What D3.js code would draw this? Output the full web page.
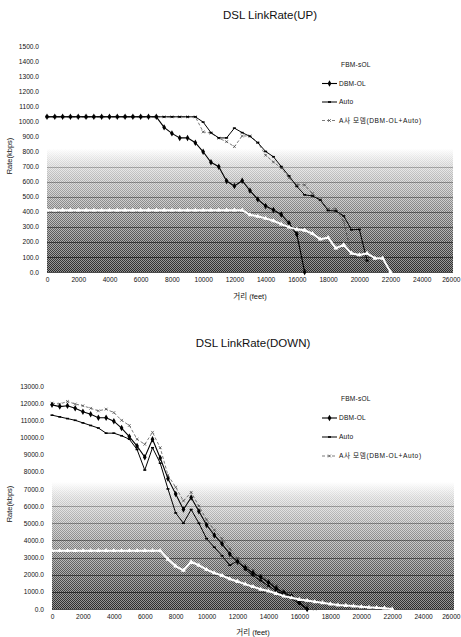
<!DOCTYPE html>
<html>
<head>
<meta charset="utf-8">
<script src="https://cdn.jsdelivr.net/npm/d3@7/dist/d3.min.js"></script>
<style>
  body { margin: 0; background: #fff; }
  text { font-family: "Liberation Sans", Arial, "Noto Sans CJK KR", sans-serif; fill: #111; }
</style>
</head>
<body>
<script>
// distance in feet, one point every 500 ft
const distance = [0, 500, 1000, 1500, 2000, 2500, 3000, 3500, 4000, 4500, 5000, 5500, 6000, 6500,
  7000, 7500, 8000, 8500, 9000, 9500, 10000, 10500, 11000, 11500, 12000, 12500, 13000, 13500,
  14000, 14500, 15000, 15500, 16000, 16500, 17000, 17500, 18000, 18500, 19000, 19500, 20000,
  20500, 21000, 21500, 22000]

const xTicks = [0, 2000, 4000, 6000, 8000, 10000, 12000, 14000, 16000, 18000, 20000, 22000, 24000, 26000]
const upTicks = [0, 100, 200, 300, 400, 500, 600, 700, 800, 900, 1000, 1100, 1200, 1300, 1400, 1500]
const downTicks = [0, 1000, 2000, 3000, 4000, 5000, 6000, 7000, 8000, 9000, 10000, 11000, 12000, 13000]

const seriesNames = ['FBM-sOL', 'DBM-OL', 'Auto', 'A사 모뎀(DBM-OL+Auto)']

// UP link rate (kbps)
const upFBM = [410, 410, 410, 410, 410, 410, 410, 410, 410, 410, 410, 410, 410, 410, 410, 410, 410,
  410, 410, 410, 410, 410, 410, 410, 410, 410, 380, 370, 356, 340, 318, 298, 283, 277, 255, 218,
  228, 158, 180, 124, 113, 124, 91, 91, 0]
const upDBM = [1030, 1030, 1030, 1030, 1030, 1030, 1030, 1030, 1030, 1030, 1030, 1030, 1030, 1030,
  1030, 960, 920, 890, 890, 858, 798, 728, 699, 604, 571, 606, 540, 482, 438, 411, 382, 323, 250, 0]
const upAuto = [1030, 1030, 1030, 1030, 1030, 1030, 1030, 1030, 1030, 1030, 1030, 1030, 1030, 1030,
  1030, 1030, 1030, 1030, 1030, 1030, 995, 925, 890, 890, 955, 925, 900, 858, 800, 765, 700, 638,
  568, 512, 505, 478, 408, 405, 372, 280, 283, 75]
const upA = [1030, 1030, 1030, 1030, 1030, 1030, 1030, 1030, 1030, 1030, 1030, 1030, 1030, 1030,
  1030, 1030, 1030, 1030, 1030, 1030, 930, 922, 888, 865, 832, 903, 903, 860, 775, 730, 690, 625,
  580, 578, 520, 480, 420, 418, 335, 115, 95, 75]

// DOWN link rate (kbps)
const downFBM = [3400, 3400, 3400, 3400, 3400, 3400, 3400, 3400, 3400, 3400, 3400, 3400, 3400, 3400,
  3400, 2900, 2500, 2250, 2750, 2550, 2300, 2100, 1950, 1750, 1600, 1450, 1300, 1150, 1050, 900,
  750, 650, 550, 500, 420, 360, 290, 230, 200, 170, 130, 100, 80, 50, 0]
const downDBM = [11900, 11800, 11850, 11700, 11500, 11350, 11150, 11150, 10950, 10550, 10050, 9500,
  8850, 9900, 8800, 7600, 6700, 5800, 6500, 5700, 4900, 4300, 3800, 3200, 2750, 2400, 2100, 1850,
  1550, 1200, 950, 750, 400, 0]
const downAuto = [11300, 11200, 11100, 11000, 10850, 10700, 10550, 10250, 10250, 10100, 9900, 9300,
  8100, 9400, 8500, 7000, 5600, 5000, 5800, 5000, 4100, 3600, 3100, 2550, 2800, 2300, 1950, 1650,
  1350, 1050, 850, 600, 300, 0]
const downA = [12000, 11950, 12100, 11950, 11850, 11700, 11550, 11650, 11450, 11000, 10700, 9900,
  9600, 10300, 9400, 7800, 7100, 6300, 6800, 6000, 5200, 4600, 4100, 3500, 2950, 2550, 2250, 1950,
  1650, 1350, 1050, 800, 550, 250, 0]

const svg = d3.select('body').append('svg')
  .attr('width', 461).attr('height', 637)

const defs = svg.append('defs')

// checker pattern to imitate the scanned halftone
const pat = defs.append('pattern').attr('id', 'dither')
  .attr('width', 2).attr('height', 2).attr('patternUnits', 'userSpaceOnUse')
pat.append('rect').attr('width', 1).attr('height', 1).attr('fill', '#000')
pat.append('rect').attr('x', 1).attr('y', 1).attr('width', 1).attr('height', 1).attr('fill', '#000')

const shade = defs.append('linearGradient').attr('id', 'shade')
  .attr('x1', 0).attr('y1', 0).attr('x2', 0).attr('y2', 1)
shade.append('stop').attr('offset', '0%').attr('stop-color', '#fff')
shade.append('stop').attr('offset', '12%').attr('stop-color', '#ececec')
shade.append('stop').attr('offset', '55%').attr('stop-color', '#c2c2c2')
shade.append('stop').attr('offset', '100%').attr('stop-color', '#8e8e8e')

const fade = defs.append('linearGradient').attr('id', 'fade')
  .attr('x1', 0).attr('y1', 0).attr('x2', 0).attr('y2', 1)
fade.append('stop').attr('offset', '0%').attr('stop-color', '#fff').attr('stop-opacity', 0)
fade.append('stop').attr('offset', '20%').attr('stop-color', '#fff').attr('stop-opacity', 0.15)
fade.append('stop').attr('offset', '100%').attr('stop-color', '#fff').attr('stop-opacity', 0.7)

function drawChart(cfg) {
  const g = svg.append('g')
  const x = d3.scaleLinear().domain([0, 26000]).range([cfg.left, cfg.right])
  const y = d3.scaleLinear().domain([0, cfg.yMax]).range([cfg.bottom, cfg.top])

  // shaded plot background
  const shTop = y(cfg.shadeTop)
  g.append('rect').attr('x', x(0)).attr('y', shTop)
    .attr('width', x(26000) - x(0)).attr('height', y(0) - shTop)
    .attr('fill', 'url(#shade)')
  const mid = 'm' + cfg.id
  defs.append('mask').attr('id', mid)
    .append('rect').attr('x', x(0)).attr('y', shTop)
    .attr('width', x(26000) - x(0)).attr('height', y(0) - shTop)
    .attr('fill', 'url(#fade)')
  g.append('rect').attr('x', x(0)).attr('y', shTop)
    .attr('width', x(26000) - x(0)).attr('height', y(0) - shTop)
    .attr('fill', 'url(#dither)').attr('mask', `url(#${mid})`)

  // horizontal grid inside the shaded band
  g.selectAll('.grid').data(cfg.ticks.filter(t => t < cfg.shadeTop - cfg.ticks[1] * 0.5)).enter()
    .append('line')
      .attr('x1', x(0)).attr('x2', x(26000))
      .attr('y1', d => Math.round(y(d)) + 0.5).attr('y2', d => Math.round(y(d)) + 0.5)
      .attr('stroke', '#111')
      .attr('stroke-opacity', d => 0.2 + 0.55 * (1 - d / cfg.shadeTop))

  // axes (labels only)
  const yAxis = g.append('g').attr('transform', `translate(${x(0) - 5},0)`)
    .call(d3.axisLeft(y).tickValues(cfg.ticks).tickFormat(d3.format('.1f')).tickSize(0))
  yAxis.select('.domain').remove()
  yAxis.selectAll('text').attr('font-size', 6.6).attr('fill', '#111')
    .style('font-family', '"Liberation Sans", Arial, sans-serif')

  const xAxis = g.append('g').attr('transform', `translate(0,${y(0) + 2})`)
    .call(d3.axisBottom(x).tickValues(xTicks).tickFormat(d3.format('d')).tickSize(0))
  xAxis.select('.domain').remove()
  xAxis.selectAll('text').attr('font-size', 6.6).attr('fill', '#111')
    .style('font-family', '"Liberation Sans", Arial, sans-serif')
  // last label sits against the page edge
  xAxis.selectAll('.tick').filter(d => d === 26000).select('text')
    .attr('text-anchor', 'end').attr('x', 460 - x(26000))

  // titles
  g.append('text').attr('x', cfg.titleX).attr('y', cfg.titleY)
    .attr('text-anchor', 'middle').attr('font-size', 11.5).text(cfg.title)
  g.append('text').attr('x', cfg.xTitleX).attr('y', cfg.xTitleY)
    .attr('text-anchor', 'middle').attr('font-size', 7.5).text('거리 (feet)')
  g.append('text')
    .attr('transform', `translate(12,${cfg.yTitleY}) rotate(-90)`)
    .attr('text-anchor', 'middle').attr('font-size', 7.5).text('Rate(kbps)')

  const line = d3.line().x((d, i) => x(distance[i])).y(d => y(d))

  const styles = [
    { data: cfg.series[0], stroke: '#fff', width: 2, dash: null, mark: 'tri' },
    { data: cfg.series[1], stroke: '#000', width: 1.1, dash: null, mark: 'diamond' },
    { data: cfg.series[2], stroke: '#000', width: 1, dash: null, mark: 'dash' },
    { data: cfg.series[3], stroke: '#444', width: 0.7, dash: '3,2', mark: 'x' }
  ]

  function marker(sel, kind, color) {
    if (kind === 'diamond') {
      sel.append('path').attr('d', d3.symbol(d3.symbolDiamond, 12)).attr('fill', '#000')
    } else if (kind === 'tri') {
      sel.append('path').attr('d', d3.symbol(d3.symbolTriangle, 10)).attr('fill', '#fff')
    } else if (kind === 'dash') {
      sel.append('rect').attr('x', -1.5).attr('y', -0.8).attr('width', 3).attr('height', 1.6).attr('fill', '#000')
    } else {
      sel.append('path').attr('d', 'M-1.4,-1.4L1.4,1.4M-1.4,1.4L1.4,-1.4')
        .attr('stroke', color).attr('stroke-width', 0.7).attr('fill', 'none')
    }
  }

  // draw dark series first, white FBM line on top
  const order = [3, 2, 1, 0]
  order.forEach(k => {
    const s = styles[k]
    g.append('path').datum(s.data)
      .attr('d', line).attr('fill', 'none')
      .attr('stroke', s.stroke).attr('stroke-width', s.width)
      .attr('stroke-dasharray', s.dash)
    g.selectAll(null).data(s.data).enter().append('g')
      .attr('transform', (d, i) => `translate(${x(distance[i])},${y(d)})`)
      .each(function () { marker(d3.select(this), s.mark, s.stroke) })
  })

  // legend
  const lg = g.append('g')
  seriesNames.forEach((name, k) => {
    const s = styles[k]
    const ly = cfg.legendY[k]
    lg.append('line').attr('x1', cfg.legendX).attr('x2', cfg.legendX + 15)
      .attr('y1', ly).attr('y2', ly)
      .attr('stroke', s.stroke).attr('stroke-width', s.width).attr('stroke-dasharray', s.dash)
    if (k > 0) {
      const m = lg.append('g').attr('transform', `translate(${cfg.legendX + 7.5},${ly})`)
      marker(m, s.mark, s.stroke)
    }
    lg.append('text').attr('x', cfg.legendX + 17 + (k === 0 ? 2 : 0)).attr('y', ly + 2.3)
      .attr('font-size', 6.6).attr('letter-spacing', k === 3 ? 0.6 : 0.2).text(name)
  })
}

drawChart({
  id: 'up', title: 'DSL LinkRate(UP)', titleX: 270, titleY: 19,
  left: 47, right: 453, bottom: 272, top: 46, yMax: 1500, ticks: upTicks, shadeTop: 820,
  xTitleX: 250, xTitleY: 299, yTitleY: 156,
  legendX: 322, legendY: [65, 83.5, 102, 120.5],
  series: [upFBM, upDBM, upAuto, upA]
})

drawChart({
  id: 'down', title: 'DSL LinkRate(DOWN)', titleX: 253, titleY: 347,
  left: 52, right: 454, bottom: 609, top: 386, yMax: 13000, ticks: downTicks, shadeTop: 7400,
  xTitleX: 253, xTitleY: 635, yTitleY: 504,
  legendX: 322, legendY: [399, 418, 437, 456],
  series: [downFBM, downDBM, downAuto, downA]
})
</script>
</body>
</html>
